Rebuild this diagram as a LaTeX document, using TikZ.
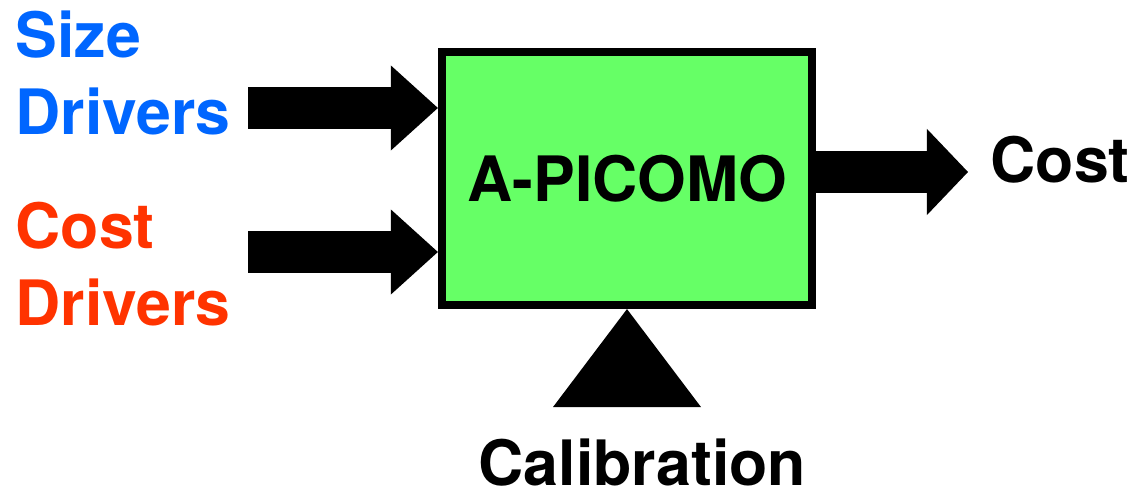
\documentclass[tikz,border=0pt]{standalone}
\usepackage{fontspec}
\setmainfont{TeX Gyre Heros}
\usepackage{tikz}
\usetikzlibrary{arrows.meta, calc}

\definecolor{sizeblue}{HTML}{0066FF}
\definecolor{costred}{HTML}{FF3300}
\definecolor{modelgreen}{HTML}{66FF66}

\begin{document}
\begin{tikzpicture}[
x=0.01cm, y=-0.01cm,
big label/.style = {font=\fontsize{17.8}{21.9}\selectfont\bfseries, inner sep=0pt},
in arrow/.style = {line width=0.42cm, -{Triangle[length=0.47cm, width=0.85cm, line width=0pt]}},
out arrow/.style = {line width=0.42cm, -{Triangle[length=0.41cm, width=0.86cm, line width=0pt]}}
]

\useasboundingbox (0,0) rectangle (1133,492);

\node (model) at (627,178.5) [draw, line width=0.08cm, fill=modelgreen, minimum width=3.7cm, minimum height=2.53cm, big label] {A-PICOMO};

\node (sizelbl) at (15,135) [big label, anchor=base west, align=left, text=sizeblue] {Size\\Drivers};
\node (costlbl) at (15,326) [big label, anchor=base west, align=left, text=costred] {Cost\\Drivers};
\node (costout) at (990,183) [big label, anchor=base west] {Cost};
\node (calib) at (478,486) [big label, anchor=base west] {Calibration};

\coordinate (sizein) at (248,108);
\coordinate (costin) at (248,252);
\coordinate (costend) at (968,172);

\draw[in arrow] (sizein) -- (sizein -| model.west);
\draw[in arrow] (costin) -- (costin -| model.west);
\draw[out arrow] (model.east |- costend) -- (costend);

% calibration input
\fill (model.south) -- ++(-74,98) -- ++(148,0) -- cycle;
\end{tikzpicture}
\end{document}
